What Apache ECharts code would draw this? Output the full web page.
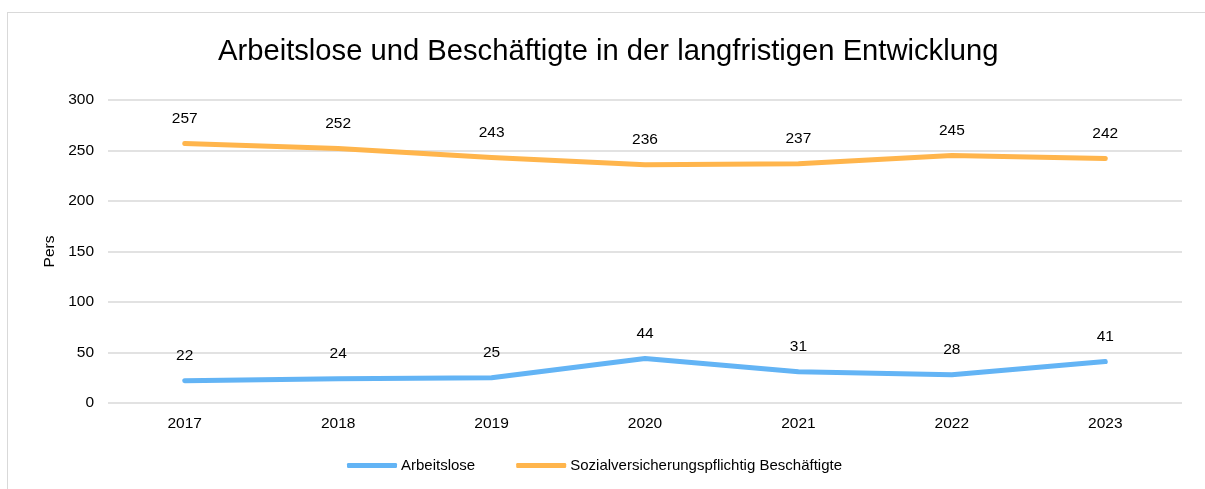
<!DOCTYPE html>
<html>
<head>
<meta charset="utf-8">
<script src="https://cdn.jsdelivr.net/npm/echarts@6/dist/echarts.min.js"></script>
<style>
  html, body { margin: 0; padding: 0; background: #fff; }
  #frame { position: absolute; left: 7px; top: 12px; width: 1210px; height: 500px; border: 1px solid #d9d9d9; box-sizing: border-box; }
  #chart { position: absolute; left: 0; top: 0; width: 1205px; height: 489px; }
</style>
</head>
<body>
<div id="frame"></div>
<div id="chart"></div>
<script>
const years = ['2017', '2018', '2019', '2020', '2021', '2022', '2023'];
const arbeitslose = [22, 24, 25, 44, 31, 28, 41];
const beschaeftigte = [257, 252, 243, 236, 237, 245, 242];
const yTicks = { min: 0, max: 300, interval: 50 };

const font = 'Liberation Sans, Arial, sans-serif';
const textSize = 15.5;
const chart = echarts.init(document.getElementById('chart'), null, { renderer: 'canvas' });

function lineSeries(name, data, color) {
  return {
    name: name,
    type: 'line',
    data: data,
    symbol: 'circle',
    symbolSize: 0,
    showSymbol: true,
    lineStyle: { width: 5, color: color, cap: 'round', join: 'round' },
    itemStyle: { color: color },
    label: {
      show: true,
      position: 'top',
      distance: 17,
      color: '#000',
      fontFamily: font,
      fontSize: textSize
    },
    emphasis: { disabled: true }
  };
}

chart.setOption({
  backgroundColor: 'transparent',
  animation: false,
  title: {
    text: 'Arbeitslose und Beschäftigte in der langfristigen Entwicklung',
    left: 213,
    top: 32,
    textStyle: { fontFamily: font, fontSize: 29.2, fontWeight: 'normal', color: '#000' }
  },
  grid: { left: 108, right: 23, top: 100, bottom: 86 },
  legend: {
    bottom: 11,
    left: 342,
    icon: 'roundRect',
    itemWidth: 50,
    itemHeight: 5,
    itemGap: 41,
    textStyle: { fontFamily: font, fontSize: 15, color: '#000', padding: [0, 0, 0, -1] },
    data: ['Arbeitslose', 'Sozialversicherungspflichtig Beschäftigte']
  },
  xAxis: {
    type: 'category',
    data: years,
    boundaryGap: true,
    axisLine: { show: false },
    axisTick: { show: false },
    axisLabel: { color: '#000', fontFamily: font, fontSize: textSize, margin: 13 }
  },
  yAxis: {
    type: 'value',
    min: yTicks.min,
    max: yTicks.max,
    interval: yTicks.interval,
    name: 'Pers',
    nameLocation: 'middle',
    nameGap: 49,
    nameRotate: 90,
    nameTextStyle: { color: '#000', fontFamily: font, fontSize: textSize },
    axisLine: { show: false },
    axisTick: { show: false },
    axisLabel: { color: '#000', fontFamily: font, fontSize: textSize, margin: 14 },
    splitLine: { lineStyle: { color: '#d9d9d9', width: 1.5 } }
  },
  series: [
    lineSeries('Arbeitslose', arbeitslose, '#63b4f5'),
    lineSeries('Sozialversicherungspflichtig Beschäftigte', beschaeftigte, '#ffb54c')
  ]
});
</script>
</body>
</html>
